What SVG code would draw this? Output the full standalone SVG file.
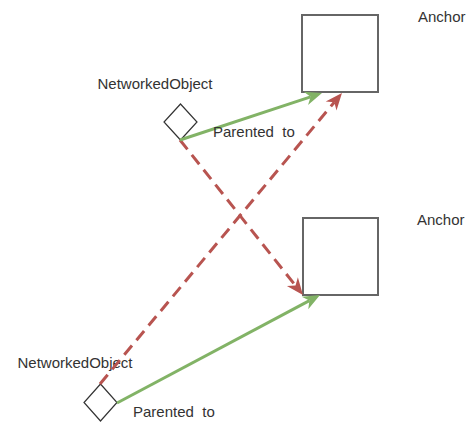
<svg xmlns="http://www.w3.org/2000/svg" width="472" height="426" viewBox="0 0 472 426">
<style>
.box{fill:#fff;stroke:#666;stroke-width:2}
.dia{fill:#fff;stroke:#333;stroke-width:1.2}
.lbl{font-family:"Liberation Sans",Arial,sans-serif;font-size:15px;fill:#333;white-space:pre}
.g{stroke:#82b366;stroke-width:3;fill:none}
.r{stroke:#b85450;stroke-width:3;fill:none;stroke-dasharray:12 7}
</style>
<defs>
<marker id="ag" markerUnits="userSpaceOnUse" markerWidth="17" markerHeight="14" refX="5" refY="7" orient="auto" overflow="visible"><path d="M0,0 L17,7 L0,14 L5,7 z" fill="#82b366"/></marker>
<marker id="ar" markerUnits="userSpaceOnUse" markerWidth="17" markerHeight="14" refX="5" refY="7" orient="auto" overflow="visible"><path d="M0,0 L17,7 L0,14 L5,7 z" fill="#b85450"/></marker>
</defs>
<rect width="472" height="426" fill="#fff"/>
<g id="anchor1"><rect class="box" x="302" y="15" width="76" height="77"/><text class="lbl" x="418" y="22">Anchor</text></g>
<g id="anchor2"><rect class="box" x="303" y="218" width="75" height="77"/><text class="lbl" x="417" y="225">Anchor</text></g>
<g id="obj1"><polygon class="dia" points="180.5,104 197,122 180.5,140 164,122"/><text class="lbl" x="155" y="89" text-anchor="middle">NetworkedObject</text></g>
<g id="obj2"><polygon class="dia" points="100.5,384 117,402.5 100.5,421 84,402.5"/><text class="lbl" x="75" y="368" text-anchor="middle">NetworkedObject</text></g>
<g id="connectors">
<line class="r" x1="180" y1="140" x2="295.5" y2="285.6" marker-end="url(#ar)"/>
<line class="r" x1="100" y1="384" x2="334.3" y2="102.2" marker-end="url(#ar)"/>
<line class="g" x1="180" y1="140" x2="310.6" y2="96.8" marker-end="url(#ag)"/>
<line class="g" x1="117" y1="403" x2="309.4" y2="300.6" marker-end="url(#ag)"/>
<text class="lbl" x="213" y="137">Parented  to</text>
<text class="lbl" x="133" y="417">Parented  to</text>
</g>
</svg>
